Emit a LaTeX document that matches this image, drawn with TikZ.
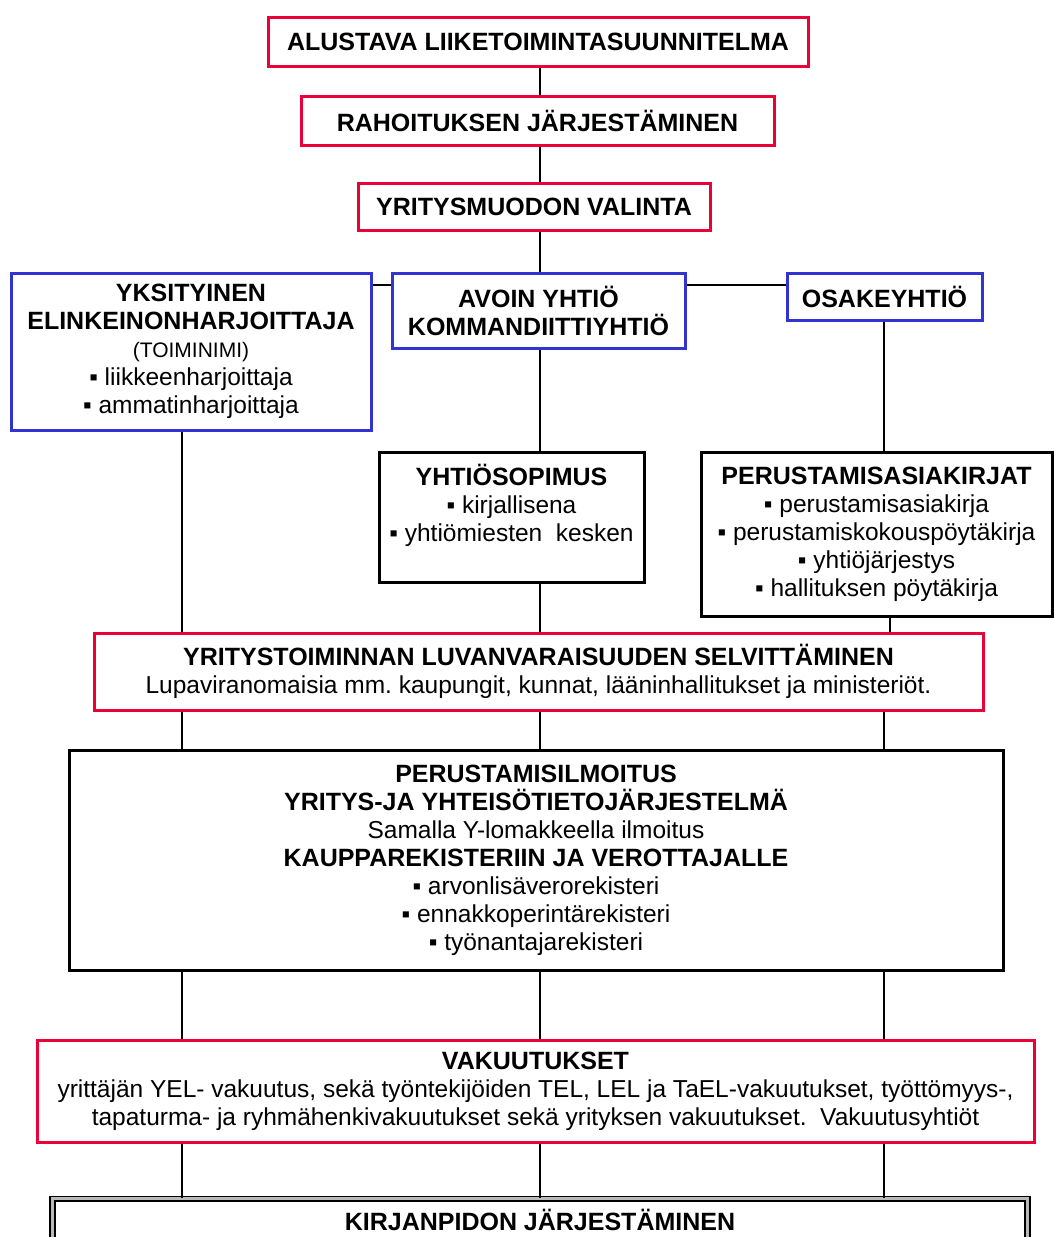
\documentclass[tikz,border=0pt]{standalone}
\usepackage{fontspec}
\setmainfont{Liberation Sans}
\frenchspacing
\definecolor{bxred}{RGB}{236,0,56}
\definecolor{bxblue}{RGB}{51,51,210}
\newcommand{\hb}[1]{{\fontsize{25}{28}\selectfont\bfseries #1}}
\newcommand{\bl}{\char"25AA\ }
\begin{document}
\begin{tikzpicture}[x=1pt,y=-1pt,
  every node/.style={font=\fontsize{24.5}{28}\selectfont\frenchspacing, align=center, inner sep=0pt},
  boxbase/.style={draw, line width=3pt, fill=white},
  redbox/.style={boxbase, draw=bxred},
  bluebox/.style={boxbase, draw=bxblue},
  blackbox/.style={boxbase, draw=black},
  link/.style={draw=black, line width=1.4pt}]
\useasboundingbox[fill=white] (0,0) rectangle (1054,1237);
\coordinate (cx) at (540,0);
\coordinate (lx) at (182,0);
\coordinate (rx) at (884,0);
\coordinate (rxb) at (890,0);
\coordinate (hy) at (0,285);
% nodes
\node[redbox, minimum width=540, minimum height=49] (A) at (538,41.5) {\hb{ALUSTAVA LIIKETOIMINTASUUNNITELMA}};
\node[redbox, minimum width=473, minimum height=49] (B) at (537.5,120.5) {\hb{RAHOITUKSEN JÄRJESTÄMINEN}};
\node[redbox, minimum width=352, minimum height=47] (C) at (534,206.5) {\hb{YRITYSMUODON VALINTA}};
\node[bluebox, minimum width=360, minimum height=157] (D) at (191,351.5) {\hb{YKSITYINEN}\\ \hb{ELINKEINONHARJOITTAJA}\\ {\fontsize{21}{27}\selectfont (TOIMINIMI)}\\ \bl liikkeenharjoittaja\\ \bl ammatinharjoittaja};
\node[bluebox, minimum width=293, minimum height=75] (E) at (538.5,310.5) {\hb{AVOIN YHTIÖ}\\ \hb{KOMMANDIITTIYHTIÖ}};
\node[bluebox, minimum width=195, minimum height=47] (F) at (884.5,296.5) {\hb{OSAKEYHTIÖ}};
\node[blackbox, minimum width=265, minimum height=130] (G) at (511.5,517) {\hb{YHTIÖSOPIMUS}\\ \bl kirjallisena\\ \bl yhtiömiesten\ \ kesken\\ \mbox{}};
\node[blackbox, minimum width=351, minimum height=164] (H) at (876.5,534) {\hb{PERUSTAMISASIAKIRJAT}\\ \bl perustamisasiakirja\\ \bl perustamiskokouspöytäkirja\\ \bl yhtiöjärjestys\\ \bl hallituksen pöytäkirja};
\node[redbox, minimum width=889, minimum height=77] (I) at (538.5,671.5) {\hb{YRITYSTOIMINNAN LUVANVARAISUUDEN SELVITTÄMINEN}\\ Lupaviranomaisia mm. kaupungit, kunnat, lääninhallitukset ja ministeriöt.};
\node[blackbox, minimum width=934, minimum height=220] (J) at (536,860) {\hb{PERUSTAMISILMOITUS}\\ \hb{YRITYS-JA YHTEISÖTIETOJÄRJESTELMÄ}\\ Samalla Y-lomakkeella ilmoitus\\ \hb{KAUPPAREKISTERIIN JA VEROTTAJALLE}\\ \bl arvonlisäverorekisteri\\ \bl ennakkoperintärekisteri\\ \bl työnantajarekisteri};
\node[redbox, minimum width=997, minimum height=102] (K) at (535.5,1091) {\hb{VAKUUTUKSET}\\ yrittäjän YEL- vakuutus, sekä työntekijöiden TEL, LEL ja TaEL-vakuutukset, työttömyys-,\\ tapaturma- ja ryhmähenkivakuutukset sekä yrityksen vakuutukset.\ \ Vakuutusyhtiöt};
\node[draw=black, fill=white, line width=1.8pt, double=gray!55, double distance=3pt, anchor=north, minimum width=975, text height=32pt, text depth=60pt] (L) at (540,1198) {\hb{KIRJANPIDON JÄRJESTÄMINEN}};
% connectors
\draw[link] (A.south -| cx) -- (B.north -| cx);
\draw[link] (B.south -| cx) -- (C.north -| cx);
\draw[link] (C.south -| cx) -- (E.north -| cx);
\draw[link] (D.east |- hy) -- (E.west |- hy);
\draw[link] (E.east |- hy) -- (F.west |- hy);
\draw[link] (D.south -| lx) -- (I.north -| lx);
\draw[link] (E.south -| cx) -- (G.north -| cx);
\draw[link] (G.south -| cx) -- (I.north -| cx);
\draw[link] (F.south -| rx) -- (H.north -| rx);
\draw[link] (H.south -| rxb) -- (I.north -| rxb);
\foreach \c in {lx,cx,rx}{
  \draw[link] (I.south -| \c) -- (J.north -| \c);
  \draw[link] (J.south -| \c) -- (K.north -| \c);
  \draw[link] (K.south -| \c) -- (L.north -| \c);
}
\end{tikzpicture}
\end{document}
